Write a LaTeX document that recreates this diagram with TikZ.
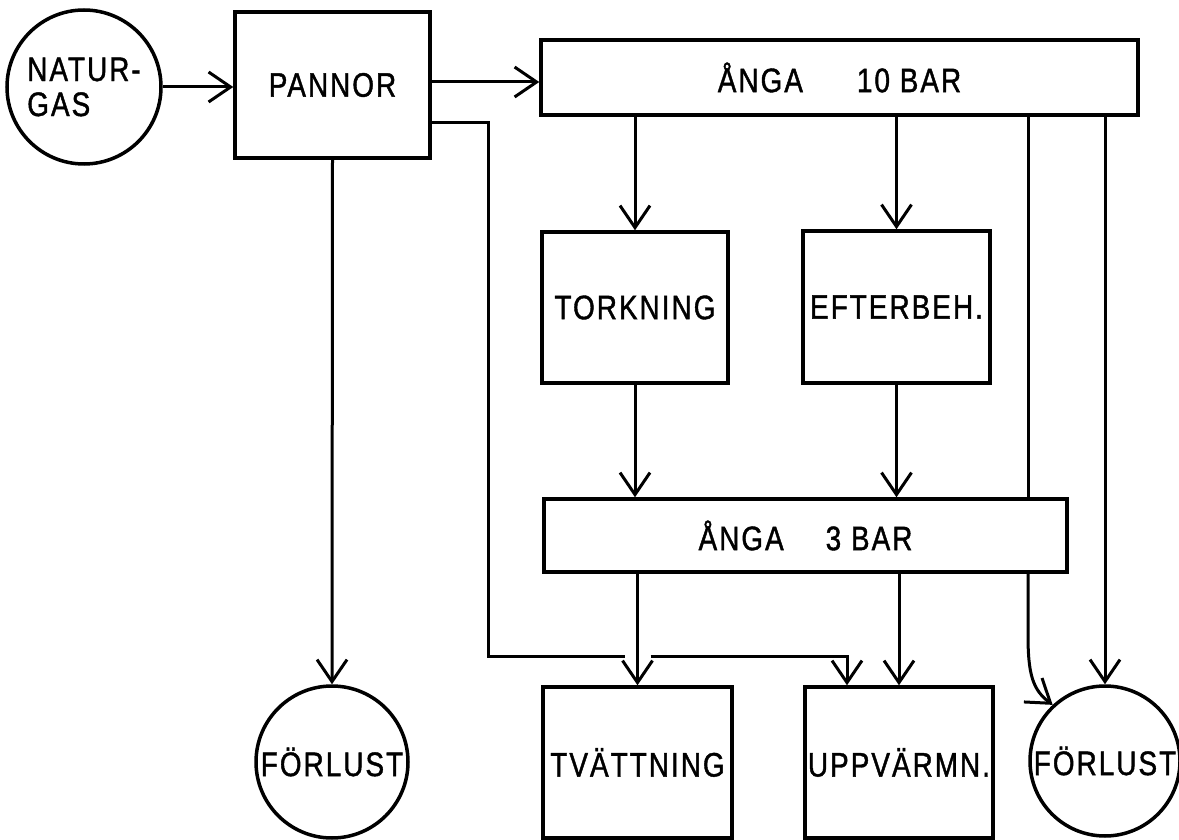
\documentclass[tikz,border=0pt]{standalone}
\usepackage{fontspec}
\setmainfont{Liberation Sans}[FakeStretch=0.82,LetterSpace=6,FakeBold=1.2]
\usetikzlibrary{arrows.meta,calc}
\newcommand\diagfont{\fontsize{34}{35}\selectfont}
\begin{document}
\begin{tikzpicture}[x=1pt,y=-1pt,
  lw/.style={line width=3pt},
  arr/.style={lw,-{Straight Barb[length=22pt,width=30pt]}},
  box/.style={draw,rectangle,line width=3.5pt,inner sep=0pt,font=\diagfont},
  ring/.style={draw,circle,line width=3.5pt,inner sep=0pt,font=\diagfont}]
\useasboundingbox (0,0) rectangle (1179,840);
% nodes
\node[ring,minimum size=154pt,align=left] (nat) at (84,87) {NATUR-\\GAS};
\node[box,minimum width=195pt,minimum height=146pt] (pan) at (332.5,85) {PANNOR\hspace{28pt}};
\node[box,minimum width=597pt,minimum height=75pt] (b10) at (839.5,77.5) {\raisebox{-5pt}{ÅNGA\hspace{54pt}10 BAR}\hspace{36pt}};
\node[box,minimum width=186pt,minimum height=151pt] (tork) at (635,307.5) {TORKNING};
\node[box,minimum width=187pt,minimum height=152pt] (eft) at (896.5,307) {EFTERBEH.};
\node[box,minimum width=523pt,minimum height=73pt] (b3) at (805.5,535.5) {ÅNGA\hspace{42pt}3 BAR};
\node[box,minimum width=189pt,minimum height=151pt] (tvat) at (637.5,762.5) {TVÄTTNING};
\node[box,minimum width=188pt,minimum height=151pt] (upp) at (899,762.5) {UPPVÄRMN.};
\node[ring,minimum size=152pt] (f1) at (332,762) {FÖRLUST};
\node[ring,minimum size=150pt] (f2) at (1105,761) {FÖRLUST};
% connectors
\draw[arr] (nat.east) -- (nat.east -| pan.west);
\coordinate (p1) at ([yshift=3pt]pan.east);
\draw[arr] (p1) -- (p1 -| b10.west);
\draw[arr] (tork |- b10.south) -- (tork.north);
\draw[arr] (eft |- b10.south) -- (eft.north);
\draw[arr] (f2 |- b10.south) -- (f2.north);
\coordinate (c1) at (1028,0);
\coordinate (c2) at (1028,635);
\draw[lw] (c1 |- b10.south) -- (c1 |- b3.north);
\draw[arr] (c1 |- b3.south) -- (c2) .. controls (1028,675) and (1033,690) .. (f2.133);
\draw[arr] (tork.south) -- (tork.south |- b3.north);
\draw[arr] (eft.south) -- (eft.south |- b3.north);
\draw[arr] (tvat |- b3.south) -- (tvat.north);
\draw[arr] (upp |- b3.south) -- (upp.north);
\draw[arr] (pan.south) -- (f1.north);
% route from PANNOR to UPPVARMN
\coordinate (pk) at ([yshift=-38pt]pan.east);
\coordinate (r1) at (488,656);
\coordinate (r2) at (847,656);
\coordinate (gl) at ($(tvat.north |- r1)+(-13,0)$);
\coordinate (gr) at ($(tvat.north |- r1)+(13,0)$);
\draw[lw] (pk) -| (r1) -- (gl);
\draw[arr] (gr) -- (r2) -- (r2 |- upp.north);
\end{tikzpicture}
\end{document}
